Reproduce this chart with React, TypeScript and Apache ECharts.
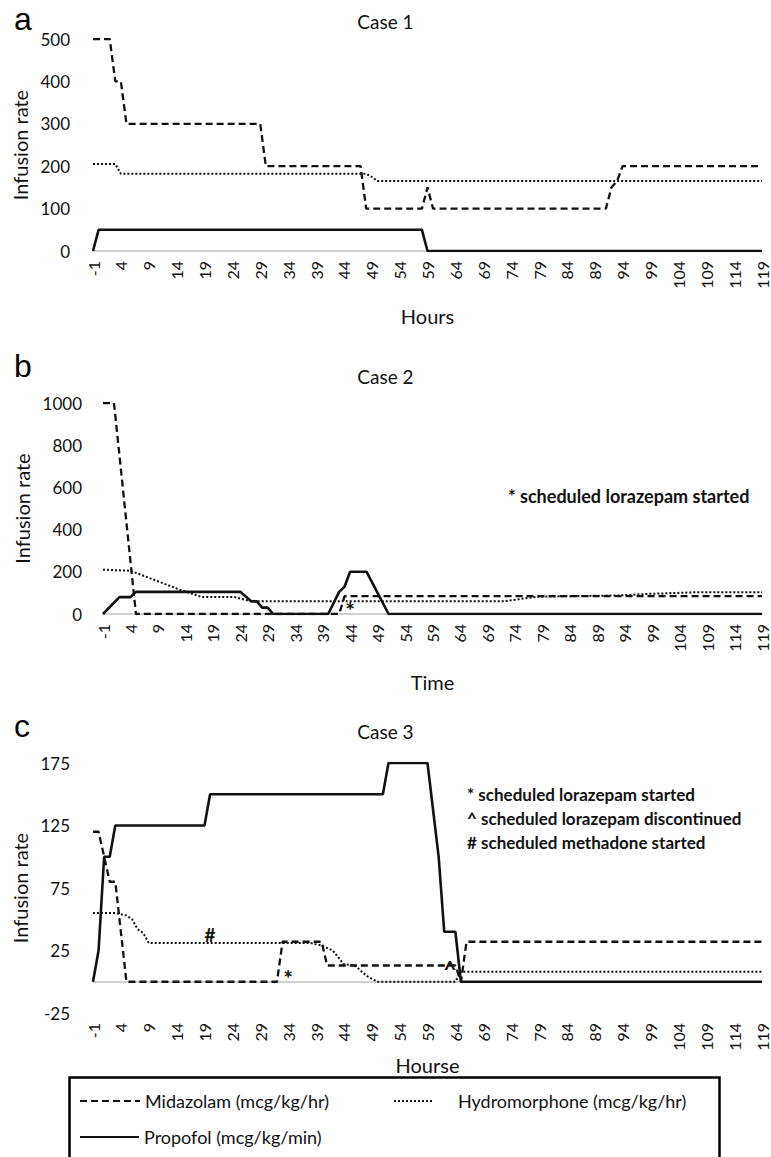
import React, { useEffect, useRef } from "react";
import * as echarts from "echarts";

// Hours on the x axis (categories)
const hourLabels: string[] = Array.from({ length: 121 }, (_, i) => String(i - 1));

// Key points [hour, rate]
const case1Midazolam = [[-1, 500], [2, 500], [3, 400], [4, 400], [5, 300], [29, 300], [30, 200], [47, 200], [48, 100], [58, 100], [59, 150], [60, 100], [91, 100], [92, 150], [93, 165], [94, 200], [119, 200]];
const case1Hydromorphone = [[-1, 205], [3, 205], [4, 182], [48, 182], [49, 175], [50, 165], [119, 165]];
const case1Propofol = [[-1, 0], [0, 50], [58, 50], [59, 0], [119, 0]];

const case2Midazolam = [[-1, 1000], [1, 1000], [5, 0], [42, 0], [43, 85], [119, 85]];
const case2Hydromorphone = [[-1, 210], [4, 205], [13, 115], [17, 80], [23, 80], [26, 60], [72, 60], [78, 82], [93, 88], [98, 95], [107, 103], [119, 103]];
const case2Propofol = [[-1, 0], [2, 80], [4, 80], [5, 105], [24, 105], [26, 60], [27, 60], [28, 30], [29, 30], [30, 0], [40, 0], [42, 105], [43, 130], [44, 200], [47, 200], [51, 0], [119, 0]];

const case3Midazolam = [[-1, 120], [0, 120], [1, 100], [2, 80], [3, 80], [5, 0], [32, 0], [33, 32], [40, 32], [41, 13], [64, 13], [65, 0], [66, 32], [119, 32]];
const case3Hydromorphone = [[-1, 55], [3, 55], [5, 53], [6, 50], [7, 42], [8, 39], [9, 31], [38, 31], [40, 29], [42, 25], [44, 14], [46, 13], [48, 5], [50, 0], [64, 0], [65, 8], [119, 8]];
const case3Propofol = [[-1, 0], [0, 25], [1, 100], [2, 100], [3, 125], [19, 125], [20, 150], [51, 150], [52, 175], [59, 175], [61, 100], [62, 40], [64, 40], [65, 0], [119, 0]];

// Annotation symbols [hour, rate, symbol]
const case2Marks: [number, number, string][] = [[44, 20, "*"]];
const case3Marks: [number, number, string][] = [[20, 38, "#"], [34, 3, "*"], [63, 10, "^"]];

const yRanges = [
  { min: 0, max: 500, interval: 100 },
  { min: 0, max: 1000, interval: 200 },
  { min: -25, max: 175, interval: 50 },
];
const xNames = ["Hours", "Time", "Hourse"];
const caseTitles = ["Case 1", "Case 2", "Case 3"];
const panelLetters = ["a", "b", "c"];

const MID = "Midazolam (mcg/kg/hr)";
const HYD = "Hydromorphone (mcg/kg/hr)";
const PRO = "Propofol (mcg/kg/min)";

const FONT = "Lato";
const INK = "#111";

function toData(pts: number[][]) {
  return pts.map(([h, v]) => [hourLabels.indexOf(String(h)), v]);
}

const cases = [
  [case1Midazolam, case1Hydromorphone, case1Propofol],
  [case2Midazolam, case2Hydromorphone, case2Propofol],
  [case3Midazolam, case3Hydromorphone, case3Propofol],
];
const marks: [number, number, string][][] = [[], case2Marks, case3Marks];

const grids = [
  { left: 93, right: 9, top: 39, height: 212 },
  { left: 103, right: 9, top: 403, height: 211 },
  { left: 93, right: 9, top: 763, height: 250 },
];
const xNameGaps = [55, 58, 18];
const yNameGaps = [61, 71, 61];
const titleTops = [12, 367, 722];
const letterTops = [3, 350, 710];

const staticGraphics: any[] = [
  { id: "box", type: "rect", left: 67, top: 1075, shape: { width: 650, height: 100 }, style: { fill: "none", stroke: "#000", lineWidth: 2.5 }, silent: true },
  { id: "n1", type: "text", left: 508, top: 487, style: { text: "* scheduled lorazepam started", fontSize: 18, fontWeight: "bold", fill: INK, fontFamily: FONT } },
  { id: "n2", type: "text", left: 467, top: 786, style: { text: "* scheduled lorazepam started", fontSize: 17, fontWeight: "bold", fill: INK, fontFamily: FONT } },
  { id: "n3", type: "text", left: 467, top: 810, style: { text: "^ scheduled lorazepam discontinued", fontSize: 17, fontWeight: "bold", fill: INK, fontFamily: FONT } },
  { id: "n4", type: "text", left: 467, top: 834, style: { text: "# scheduled methadone started", fontSize: 17, fontWeight: "bold", fill: INK, fontFamily: FONT } },
];

function buildOption() {
  const series: any[] = [];
  cases.forEach((c, i) => {
    series.push({
      type: "line", name: MID, xAxisIndex: i, yAxisIndex: i, data: toData(c[0]),
      symbol: "none", lineStyle: { color: INK, width: 2.3, type: [7, 4] }, itemStyle: { color: INK }, color: INK, z: 2,
    });
    series.push({
      type: "line", name: HYD, xAxisIndex: i, yAxisIndex: i, data: toData(c[1]),
      symbol: "none", lineStyle: { color: INK, width: 2, type: [2, 2] }, itemStyle: { color: INK }, color: INK, z: 3,
    });
    series.push({
      type: "line", name: PRO, xAxisIndex: i, yAxisIndex: i, data: toData(c[2]),
      symbol: "none", lineStyle: { color: INK, width: 2.6 }, itemStyle: { color: INK }, color: INK, z: 4,
    });
  });

  const legendCommon = {
    itemHeight: 20, padding: 0, selectedMode: false,
    itemStyle: { opacity: 0 },
  };

  return {
    animation: false,
    backgroundColor: "#fff",
    textStyle: { fontFamily: FONT },
    title: [
      ...caseTitles.map((t, i) => ({
        text: t, left: "center", top: titleTops[i], padding: 0,
        textStyle: { fontSize: 19, fontWeight: "normal", color: INK, fontFamily: FONT },
      })),
      ...panelLetters.map((t, i) => ({
        text: t, left: 14, top: letterTops[i], padding: 0,
        textStyle: { fontSize: 32, fontWeight: "normal", color: "#000", fontFamily: "Liberation Sans" },
      })),
    ],
    grid: grids,
    xAxis: grids.map((_, i) => ({
      type: "category", gridIndex: i, data: hourLabels, boundaryGap: false,
      axisLine: { onZero: true, lineStyle: { color: "#c2c2c2", width: 1.5 } },
      axisTick: { show: false },
      splitLine: { show: false },
      axisLabel: { interval: 4, rotate: 90, fontSize: 16, color: INK, margin: 10, fontFamily: FONT },
      name: xNames[i], nameLocation: "middle", nameGap: xNameGaps[i],
      nameTextStyle: { fontSize: 20, color: INK, fontFamily: FONT },
    })),
    yAxis: grids.map((_, i) => ({
      type: "value", gridIndex: i, ...yRanges[i],
      axisLine: { show: false }, axisTick: { show: false }, splitLine: { show: false },
      axisLabel: {
        fontSize: 17, color: INK, margin: i === 1 ? 21 : 23, fontFamily: FONT,
        formatter: (v: number) => String(v),
      },
      name: "Infusion rate", nameLocation: "middle", nameGap: yNameGaps[i], nameRotate: 90,
      nameTextStyle: { fontSize: 20, color: INK, fontFamily: FONT },
    })),
    legend: [
      { ...legendCommon, data: [MID], left: 79, top: 1092, itemWidth: 60,
        textStyle: { fontSize: 18, color: INK, fontFamily: FONT } },
      { ...legendCommon, data: [HYD], left: 393, top: 1092, itemWidth: 40,
        textStyle: { fontSize: 18, color: INK, fontFamily: FONT, padding: [0, 0, 0, 19] } },
      { ...legendCommon, data: [PRO], left: 79, top: 1128, itemWidth: 59,
        textStyle: { fontSize: 18, color: INK, fontFamily: FONT } },
    ],
    graphic: staticGraphics,
    series,
  };
}

export default function App() {
  const ref = useRef<HTMLDivElement>(null);
  useEffect(() => {
    if (!ref.current) return;
    const chart = echarts.init(ref.current, undefined, { renderer: "svg" });
    chart.setOption(buildOption() as any);
    // Place the annotation symbols at their data positions through the axes' scales
    const markEls: any[] = [];
    marks.forEach((list, gi) => {
      list.forEach(([h, v, s], k) => {
        const p = chart.convertToPixel({ gridIndex: gi } as any, [hourLabels.indexOf(String(h)), v]) as number[];
        if (!p) return;
        markEls.push({
          id: `m${gi}_${k}`, type: "text", x: p[0], y: p[1], silent: true, z: 10,
          style: {
            text: s, fontSize: s === "#" ? 19 : 23, fontWeight: "bold", fill: INK, fontFamily: FONT,
            align: "center", verticalAlign: "middle",
          },
        });
      });
    });
    chart.setOption({ graphic: [...staticGraphics, ...markEls] } as any);
    return () => chart.dispose();
  }, []);
  return (
    <div
      ref={ref}
      style={{ position: "absolute", left: 0, top: 0, width: 771, height: 1157, background: "#fff" }}
    />
  );
}
